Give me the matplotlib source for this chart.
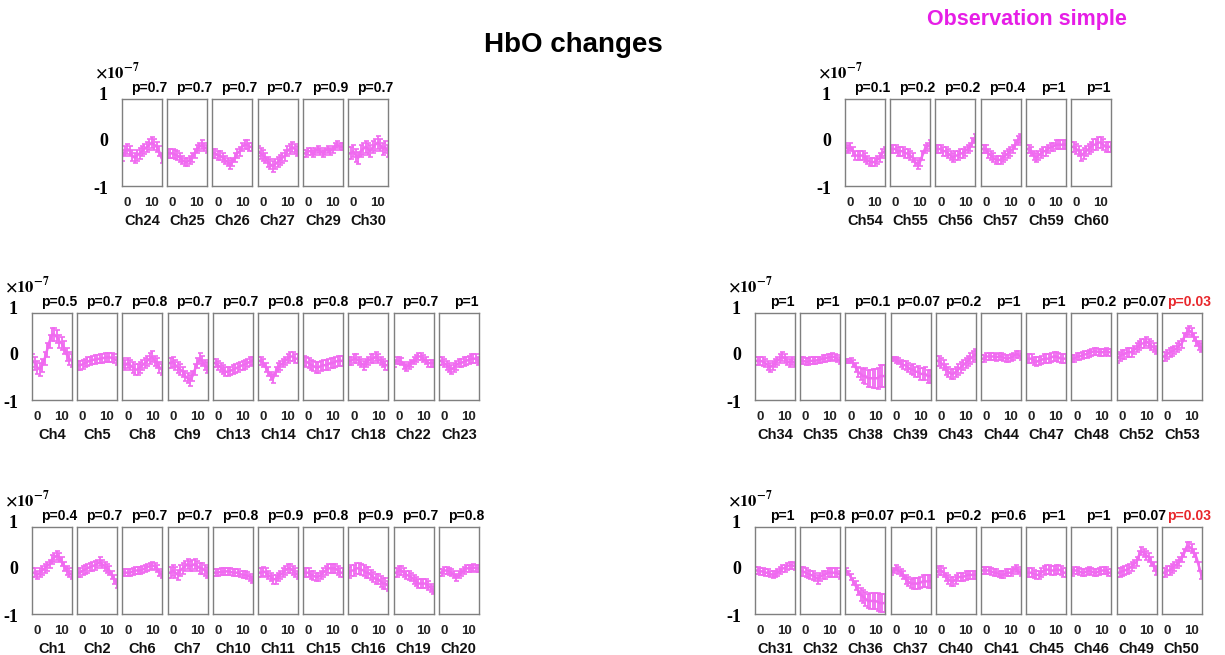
import numpy as np
import matplotlib.pyplot as plt

plt.rcParams['font.family'] = ['Liberation Sans', 'DejaVu Sans']
plt.rcParams['mathtext.fontset'] = 'stix'

W, H = 1225, 655

# time axis (s)
t = [-2, -1, 0, 1, 2, 3, 4, 5, 6, 7, 8, 9, 10, 11, 12, 13, 14]

# ---------------- left block ----------------
names_lt = ["Ch24", "Ch25", "Ch26", "Ch27", "Ch29", "Ch30"]
p_lt = ["p=0.7", "p=0.7", "p=0.7", "p=0.7", "p=0.9", "p=0.7"]
hbo_lt = [
    [-0.3, -0.2, -0.15, -0.2, -0.3, -0.35, -0.3, -0.25, -0.2, -0.15, -0.1, -0.05, 0.0, -0.05, -0.1, -0.2, -0.35],
    [-0.25, -0.25, -0.25, -0.28, -0.3, -0.35, -0.4, -0.45, -0.45, -0.4, -0.35, -0.25, -0.15, -0.1, -0.05, -0.1, -0.15],
    [-0.25, -0.25, -0.3, -0.3, -0.35, -0.4, -0.45, -0.5, -0.45, -0.35, -0.25, -0.2, -0.1, -0.05, -0.05, -0.1, -0.1],
    [-0.2, -0.25, -0.3, -0.35, -0.45, -0.5, -0.55, -0.5, -0.45, -0.4, -0.35, -0.3, -0.2, -0.15, -0.1, -0.15, -0.2],
    [-0.25, -0.25, -0.2, -0.2, -0.25, -0.2, -0.15, -0.2, -0.25, -0.2, -0.15, -0.2, -0.15, -0.1, -0.05, -0.1, -0.1],
    [-0.25, -0.25, -0.2, -0.3, -0.35, -0.2, -0.15, -0.1, -0.15, -0.2, -0.1, -0.05, 0.0, -0.05, -0.15, -0.1, -0.2],
]
err_lt = [0.12, 0.1, 0.1, 0.12, 0.08, 0.14]

names_lm = ["Ch4", "Ch5", "Ch8", "Ch9", "Ch13", "Ch14", "Ch17", "Ch18", "Ch22", "Ch23"]
p_lm = ["p=0.5", "p=0.7", "p=0.8", "p=0.7", "p=0.7", "p=0.8", "p=0.8", "p=0.7", "p=0.7", "p=1"]
hbo_lm = [
    [-0.1, -0.15, -0.25, -0.3, -0.2, -0.05, 0.15, 0.35, 0.5, 0.5, 0.45, 0.35, 0.3, 0.2, 0.05, -0.05, -0.1],
    [-0.2, -0.2, -0.18, -0.15, -0.12, -0.1, -0.08, -0.07, -0.06, -0.05, -0.04, -0.03, -0.02, -0.02, -0.03, -0.05, -0.1],
    [-0.15, -0.2, -0.15, -0.2, -0.25, -0.3, -0.3, -0.25, -0.2, -0.15, -0.1, -0.05, 0.0, -0.1, -0.15, -0.25, -0.3],
    [-0.15, -0.15, -0.12, -0.2, -0.25, -0.3, -0.35, -0.45, -0.5, -0.55, -0.45, -0.3, -0.15, -0.05, -0.1, -0.2, -0.25],
    [-0.15, -0.15, -0.2, -0.25, -0.3, -0.35, -0.35, -0.33, -0.3, -0.28, -0.25, -0.22, -0.2, -0.18, -0.15, -0.12, -0.1],
    [-0.1, -0.1, -0.15, -0.25, -0.35, -0.45, -0.5, -0.35, -0.25, -0.2, -0.15, -0.1, -0.05, 0.0, 0.0, -0.05, -0.05],
    [-0.1, -0.12, -0.15, -0.2, -0.22, -0.25, -0.25, -0.22, -0.2, -0.2, -0.18, -0.15, -0.15, -0.12, -0.1, -0.1, -0.1],
    [-0.1, -0.1, -0.05, -0.05, -0.1, -0.15, -0.2, -0.15, -0.1, -0.05, -0.05, 0.0, -0.05, -0.1, -0.15, -0.2, -0.2],
    [-0.15, -0.1, -0.1, -0.12, -0.2, -0.25, -0.2, -0.15, -0.1, -0.05, 0.0, 0.0, -0.05, -0.1, -0.15, -0.15, -0.15],
    [-0.1, -0.1, -0.15, -0.2, -0.25, -0.3, -0.25, -0.2, -0.15, -0.15, -0.12, -0.1, -0.08, -0.05, -0.05, -0.05, -0.1],
]
err_lm = [0.15, 0.1, 0.12, 0.12, 0.1, 0.1, 0.12, 0.1, 0.08, 0.1]

names_lb = ["Ch1", "Ch2", "Ch6", "Ch7", "Ch10", "Ch11", "Ch15", "Ch16", "Ch19", "Ch20"]
p_lb = ["p=0.4", "p=0.7", "p=0.7", "p=0.7", "p=0.8", "p=0.9", "p=0.8", "p=0.9", "p=0.7", "p=0.8"]
hbo_lb = [
    [-0.05, -0.05, -0.1, -0.05, 0.0, 0.05, 0.1, 0.15, 0.25, 0.3, 0.35, 0.3, 0.2, 0.1, 0.0, -0.05, -0.1],
    [-0.05, -0.05, 0.0, 0.02, 0.05, 0.08, 0.1, 0.12, 0.15, 0.2, 0.15, 0.1, 0.05, 0.0, -0.1, -0.2, -0.3],
    [-0.05, -0.05, -0.05, -0.05, -0.02, 0.0, 0.0, 0.0, 0.02, 0.05, 0.08, 0.1, 0.12, 0.1, 0.05, -0.05, -0.1],
    [-0.05, -0.05, 0.0, -0.05, -0.1, 0.0, 0.05, 0.1, 0.15, 0.1, 0.12, 0.15, 0.1, 0.05, 0.05, 0.0, -0.05],
    [-0.05, -0.05, -0.05, -0.03, -0.03, -0.02, -0.02, -0.03, -0.05, -0.05, -0.05, -0.08, -0.1, -0.1, -0.12, -0.15, -0.2],
    [-0.05, -0.05, -0.02, -0.05, -0.1, -0.15, -0.2, -0.2, -0.15, -0.1, -0.05, 0.0, 0.05, 0.05, 0.0, -0.05, -0.1],
    [-0.05, -0.05, -0.05, -0.1, -0.12, -0.15, -0.15, -0.1, -0.05, 0.0, 0.05, 0.05, 0.05, 0.05, 0.0, -0.05, -0.05],
    [-0.05, 0.0, 0.0, 0.05, 0.05, 0.02, 0.0, -0.05, -0.05, -0.1, -0.15, -0.2, -0.2, -0.25, -0.3, -0.3, -0.35],
    [-0.05, -0.05, 0.0, 0.0, -0.05, -0.1, -0.12, -0.15, -0.2, -0.25, -0.3, -0.3, -0.3, -0.3, -0.35, -0.4, -0.45],
    [-0.05, -0.05, 0.0, 0.0, -0.02, -0.05, -0.1, -0.15, -0.1, -0.05, 0.0, 0.05, 0.05, 0.05, 0.07, 0.05, 0.05],
]
err_lb = [0.1, 0.1, 0.08, 0.12, 0.08, 0.1, 0.1, 0.12, 0.1, 0.08]

# ---------------- right block ----------------
names_rt = ["Ch54", "Ch55", "Ch56", "Ch57", "Ch59", "Ch60"]
p_rt = ["p=0.1", "p=0.2", "p=0.2", "p=0.4", "p=1", "p=1"]
hbo_rt = [
    [-0.1, -0.15, -0.1, -0.2, -0.3, -0.3, -0.3, -0.3, -0.35, -0.4, -0.45, -0.45, -0.45, -0.4, -0.35, -0.25, -0.2],
    [-0.15, -0.15, -0.15, -0.2, -0.2, -0.2, -0.25, -0.25, -0.3, -0.35, -0.45, -0.5, -0.45, -0.3, -0.15, -0.1, -0.05],
    [-0.15, -0.15, -0.15, -0.2, -0.2, -0.25, -0.3, -0.35, -0.3, -0.3, -0.25, -0.25, -0.2, -0.15, -0.1, 0.0, 0.1],
    [-0.15, -0.15, -0.15, -0.25, -0.3, -0.35, -0.4, -0.4, -0.4, -0.35, -0.3, -0.25, -0.2, -0.15, -0.05, 0.05, 0.1],
    [-0.15, -0.15, -0.2, -0.3, -0.35, -0.3, -0.25, -0.2, -0.2, -0.15, -0.1, -0.1, -0.05, -0.05, -0.05, -0.05, -0.05],
    [-0.1, -0.1, -0.15, -0.2, -0.3, -0.25, -0.2, -0.15, -0.1, -0.05, -0.05, 0.0, 0.0, -0.05, -0.1, -0.1, -0.1],
]
err_rt = [0.1, 0.1, 0.1, 0.1, 0.1, 0.12]

names_rm = ["Ch34", "Ch35", "Ch38", "Ch39", "Ch43", "Ch44", "Ch47", "Ch48", "Ch52", "Ch53"]
p_rm = ["p=1", "p=1", "p=0.1", "p=0.07", "p=0.2", "p=1", "p=1", "p=0.2", "p=0.07", "p=0.03"]
hbo_rm = [
    [-0.1, -0.1, -0.1, -0.12, -0.15, -0.2, -0.25, -0.2, -0.15, -0.1, -0.05, 0.0, -0.05, -0.1, -0.15, -0.1, -0.15],
    [-0.1, -0.1, -0.12, -0.12, -0.1, -0.1, -0.1, -0.08, -0.08, -0.05, -0.05, -0.02, -0.02, 0.0, -0.02, -0.05, -0.1],
    [-0.1, -0.1, -0.1, -0.15, -0.25, -0.35, -0.4, -0.45, -0.45, -0.5, -0.5, -0.5, -0.5, -0.5, -0.45, -0.45, -0.45],
    [-0.05, -0.05, -0.08, -0.1, -0.15, -0.2, -0.2, -0.25, -0.3, -0.3, -0.35, -0.35, -0.4, -0.4, -0.4, -0.45, -0.45],
    [-0.1, -0.1, -0.15, -0.2, -0.3, -0.35, -0.4, -0.4, -0.35, -0.3, -0.25, -0.2, -0.15, -0.1, -0.05, 0.0, 0.05],
    [-0.05, -0.05, 0.0, 0.0, 0.0, 0.0, -0.02, 0.0, 0.0, -0.02, -0.05, -0.05, -0.02, 0.0, 0.05, 0.05, 0.0],
    [-0.05, -0.05, -0.05, -0.1, -0.12, -0.1, -0.08, -0.05, -0.05, -0.05, -0.02, 0.0, 0.0, -0.02, -0.05, -0.05, -0.05],
    [-0.05, -0.05, 0.0, 0.0, 0.02, 0.05, 0.05, 0.08, 0.1, 0.12, 0.12, 0.1, 0.1, 0.1, 0.12, 0.1, 0.1],
    [-0.05, 0.0, 0.05, 0.05, 0.1, 0.1, 0.1, 0.15, 0.2, 0.25, 0.3, 0.3, 0.35, 0.3, 0.25, 0.2, 0.15],
    [0.0, 0.0, 0.05, 0.1, 0.12, 0.15, 0.2, 0.25, 0.3, 0.45, 0.55, 0.6, 0.55, 0.45, 0.35, 0.25, 0.2],
]
err_rm = [0.1, 0.08,
          [0.05, 0.05, 0.06, 0.08, 0.1, 0.12, 0.14, 0.16, 0.18, 0.2, 0.2, 0.22, 0.22, 0.24, 0.25, 0.25, 0.25],
          [0.05, 0.05, 0.06, 0.07, 0.08, 0.09, 0.1, 0.1, 0.11, 0.12, 0.12, 0.13, 0.14, 0.14, 0.15, 0.15, 0.15],
          0.12, 0.08, 0.1, 0.08, 0.1, 0.1]

names_rb = ["Ch31", "Ch32", "Ch36", "Ch37", "Ch40", "Ch41", "Ch45", "Ch46", "Ch49", "Ch50"]
p_rb = ["p=1", "p=0.8", "p=0.07", "p=0.1", "p=0.2", "p=0.6", "p=1", "p=1", "p=0.07", "p=0.03"]
hbo_rb = [
    [0.0, 0.0, -0.02, -0.02, -0.05, -0.05, -0.08, -0.1, -0.08, -0.05, 0.0, 0.05, 0.05, 0.1, 0.12, 0.12, 0.1],
    [-0.02, -0.02, -0.05, -0.08, -0.1, -0.12, -0.15, -0.2, -0.15, -0.1, -0.1, -0.05, -0.05, -0.05, -0.05, -0.05, -0.1],
    [0.0, -0.05, -0.15, -0.25, -0.35, -0.45, -0.55, -0.6, -0.65, -0.7, -0.7, -0.7, -0.7, -0.72, -0.75, -0.75, -0.75],
    [-0.05, 0.0, 0.05, 0.0, -0.05, -0.1, -0.2, -0.25, -0.3, -0.3, -0.3, -0.3, -0.28, -0.25, -0.25, -0.25, -0.25],
    [-0.05, 0.0, 0.0, -0.05, -0.15, -0.2, -0.25, -0.25, -0.2, -0.15, -0.15, -0.15, -0.12, -0.1, -0.1, -0.1, -0.1],
    [0.0, 0.0, 0.0, 0.0, -0.02, -0.05, -0.05, -0.08, -0.1, -0.1, -0.05, -0.05, -0.05, 0.0, 0.05, 0.0, -0.05],
    [-0.05, -0.05, -0.05, -0.08, -0.1, -0.1, -0.05, 0.0, 0.02, 0.02, 0.0, 0.0, 0.02, 0.02, 0.0, -0.05, -0.05],
    [-0.05, 0.0, 0.0, -0.02, -0.05, -0.05, -0.02, 0.0, -0.02, -0.05, -0.05, -0.02, 0.0, 0.0, 0.0, -0.05, -0.05],
    [-0.05, -0.05, -0.02, 0.0, 0.02, 0.05, 0.1, 0.15, 0.2, 0.35, 0.45, 0.4, 0.35, 0.3, 0.2, 0.1, 0.0],
    [-0.05, -0.05, 0.0, 0.0, 0.05, 0.1, 0.15, 0.2, 0.3, 0.4, 0.55, 0.55, 0.5, 0.4, 0.3, 0.1, -0.1],
]
err_rb = [0.08, 0.1,
          [0.05, 0.05, 0.06, 0.08, 0.1, 0.12, 0.14, 0.15, 0.16, 0.17, 0.18, 0.18, 0.19, 0.2, 0.2, 0.2, 0.2],
          [0.06, 0.06, 0.07, 0.08, 0.08, 0.09, 0.1, 0.1, 0.11, 0.12, 0.12, 0.13, 0.13, 0.14, 0.14, 0.15, 0.15],
          0.1, 0.08, 0.1, 0.08, 0.1, 0.1]

MAG = '#f06af0'
BOX = '#7f7f7f'

fig = plt.figure(figsize=(W / 100, H / 100), dpi=100)


def draw_row(left0, top, names, pvals, hbo, errs):
    for i in range(len(names)):
        left = left0 + i * 45.2
        ax = fig.add_axes([left / W, 1 - (top + 87) / H, 40 / W, 87 / H])
        ax.errorbar(t, hbo[i], yerr=errs[i], color=MAG, lw=1.8, elinewidth=1.3,
                    capsize=1.8, capthick=1.2)
        ax.set_xlim(-2.2, 14.2)
        ax.set_ylim(-1, 1)
        ax.set_xticks([0, 10])
        ax.set_xticklabels(["0", "10"], fontsize=9.5, fontweight='bold',
                           color='#222222')
        ax.tick_params(axis='x', length=0, pad=8)
        ax.set_yticks([])
        for s in ax.spines.values():
            s.set_color(BOX)
            s.set_linewidth(1)
        col = '#e8262b' if pvals[i] == "p=0.03" else 'black'
        ax.text(0.5 + 7 / 40, 1 + 11 / 87, pvals[i], transform=ax.transAxes,
                ha='center', va='center', fontsize=10, fontweight='bold', color=col)
        ax.text(0.5, -35 / 87, names[i], transform=ax.transAxes,
                ha='center', va='center', fontsize=10.5, fontweight='bold',
                color='#111111')
    # y labels, MATLAB-style, left of the first box
    sf = dict(family='Liberation Serif', fontweight='bold', fontsize=13)
    fig.text((left0 - 14) / W, 1 - (top - 4) / H, "1", ha='right', va='center', **sf)
    fig.text((left0 - 14) / W, 1 - (top + 43) / H, "0", ha='right', va='center', **sf)
    fig.text((left0 - 14) / W, 1 - (top + 90) / H, "-1", ha='right', va='center', **sf)
    fig.text((left0 - 27) / W, 1 - (top - 27) / H, r"$\mathbf{\times 10^{-7}}$",
             ha='left', va='center', fontsize=12)


draw_row(122, 99, names_lt, p_lt, hbo_lt, err_lt)
draw_row(32, 313, names_lm, p_lm, hbo_lm, err_lm)
draw_row(32, 527, names_lb, p_lb, hbo_lb, err_lb)
draw_row(845, 99, names_rt, p_rt, hbo_rt, err_rt)
draw_row(755, 313, names_rm, p_rm, hbo_rm, err_rm)
draw_row(755, 527, names_rb, p_rb, hbo_rb, err_rb)

fig.text(573 / W, 1 - 45 / H, "HbO changes", ha='center', va='center',
         fontsize=20, fontweight='bold')
fig.text(1027 / W, 1 - 20 / H, "Observation simple", ha='center', va='center',
         fontsize=15.5, fontweight='bold', color='#e61ee6')

fig.savefig("out.png", dpi=100)
